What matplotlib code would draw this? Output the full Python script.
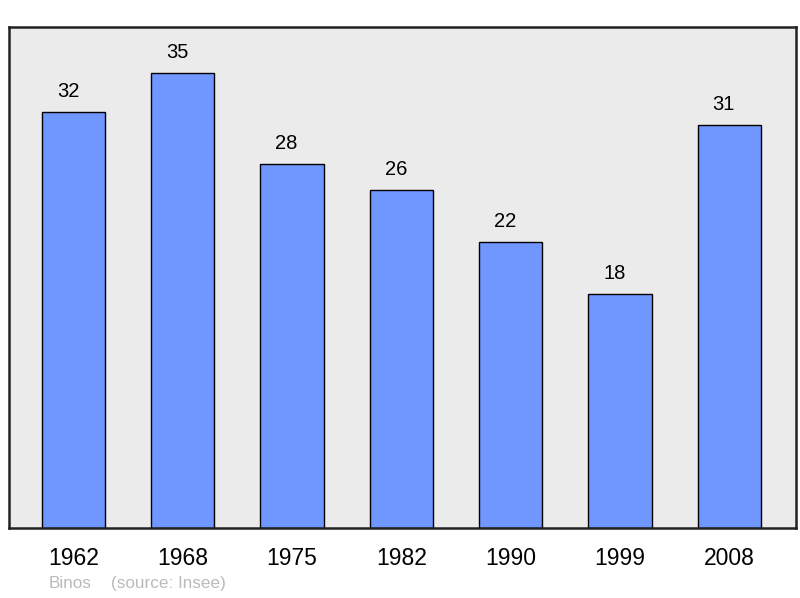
import matplotlib
matplotlib.use("Agg")
import matplotlib.pyplot as plt

years = ["1962", "1968", "1975", "1982", "1990", "1999", "2008"]
population = [32, 35, 28, 26, 22, 18, 31]

plt.rcParams["font.family"] = ["Liberation Sans", "DejaVu Sans"]

fig = plt.figure(figsize=(8, 5.98), dpi=100)
ax = fig.add_axes([9 / 800, 1 - 528 / 598, 787 / 800, 501 / 598])
ax.set_facecolor("#ebebeb")

x = range(len(years))
ax.bar(x, population, width=0.58, color="#7097ff", edgecolor="black", linewidth=1.0)
for i, v in enumerate(population):
    ax.text(i - 0.05, v + 1.6, str(v), ha="center", va="center", fontsize=14.5)

ax.set_xlim(-0.59, 6.61)
ax.set_ylim(0, 38.54)
ax.set_yticks([])
ax.set_xticks(list(x))
ax.set_xticklabels(years, fontsize=16.5)
ax.tick_params(axis="x", length=0, pad=14)
for s in ax.spines.values():
    s.set_linewidth(1.8)
    s.set_color("#222222")

# footer, both on the same baseline
fig.text(49 / 800, 1 - 588 / 598, "Binos", color="#bbbbbb", fontsize=12.3, va="baseline")
fig.text(111 / 800, 1 - 588 / 598, "(source: Insee)", color="#bbbbbb", fontsize=12.3, va="baseline")

fig.savefig("out.png", dpi=100)
